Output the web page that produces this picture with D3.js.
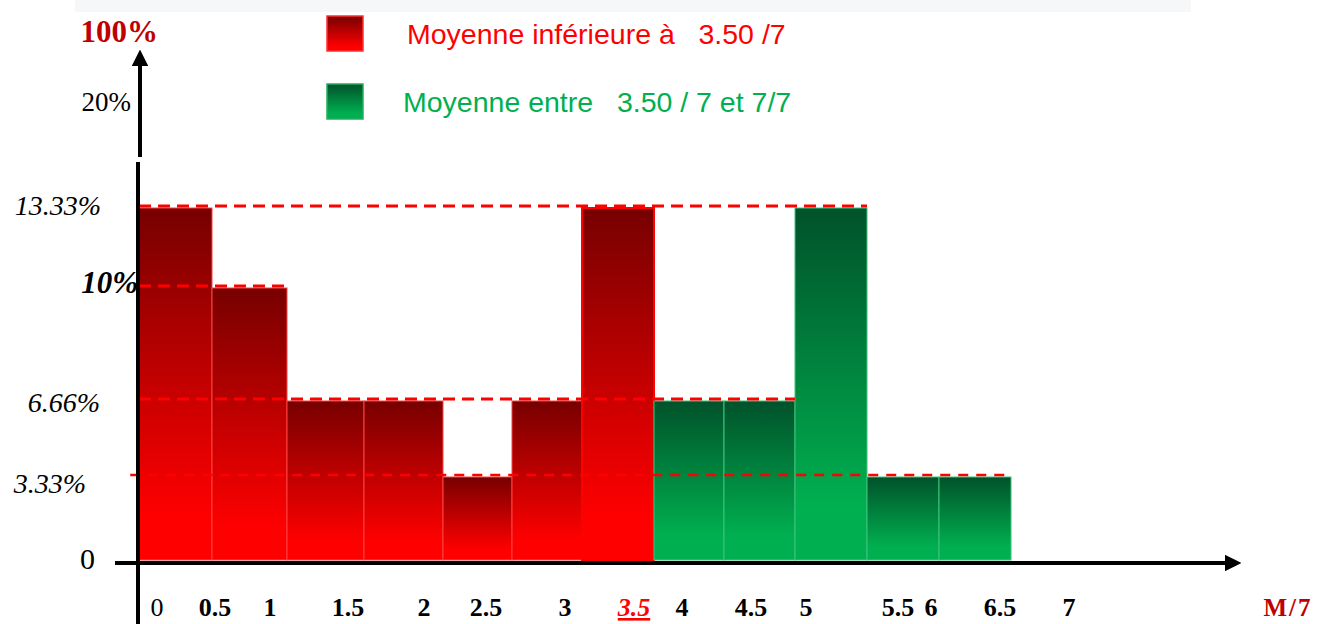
<!DOCTYPE html>
<html>
<head>
<meta charset="utf-8">
<script src="https://cdn.jsdelivr.net/npm/d3@7"></script>
<style>
  html, body { margin: 0; padding: 0; background: #ffffff; }
  svg { display: block; }
  text { white-space: pre; }
</style>
</head>
<body>
<div id="chart"></div>
<script>
// ---- data ----
var classes = [0, 0.5, 1, 1.5, 2, 2.5, 3, 3.5, 4, 4.5, 5, 5.5];            // start of each class (M/7)
var percents = [13.33, 10, 6.66, 6.66, 3.33, 6.66, 13.33, 6.66, 6.66, 13.33, 3.33, 3.33];
var groups = ["inf", "inf", "inf", "inf", "inf", "inf", "inf", "sup", "sup", "sup", "sup", "sup"];

var refValues = [13.33, 10, 6.66, 3.33];   // dashed reference levels
var refEnds = [5, 1, 4.5, 6];              // class edge where each dashed line stops

var yTickValues = [0, 3.33, 6.66, 10, 13.33, 20, 100];
var yTickLabels = ["0", "3.33%", "6.66%", "10%", "13.33%", "20%", "100%"];

var xTickValues = [0, 0.5, 1, 1.5, 2, 2.5, 3, 3.5, 4, 4.5, 5, 5.5, 6, 6.5, 7];
var xTickLabels = ["0", "0.5", "1", "1.5", "2", "2.5", "3", "3.5", "4", "4.5", "5", "5.5", "6", "6.5", "7"];

var legendLabels = ["Moyenne inférieure à   3.50 /7", "Moyenne entre   3.50 / 7 et 7/7"];

// ---- layout (hand drawn axis, so piecewise scales) ----
var W = 1317, H = 624;
var svg = d3.select("#chart").append("svg").attr("width", W).attr("height", H);

var y = d3.scaleLinear()
    .domain(yTickValues)
    .range([560, 477, 401, 288, 208, 103, 32]);

var x = d3.scaleLinear()
    .domain([0, 0.5, 1, 1.5, 2, 2.5, 3, 3.5, 4, 4.5, 5, 5.5, 6])
    .range([139, 212, 287, 364, 443, 512, 582, 654, 724, 795, 867, 939, 1011]);

// positions of the labels under the x axis (they do not sit on the bar edges)
var xLabel = d3.scaleLinear()
    .domain(xTickValues)
    .range([157, 215, 270, 348, 424, 486, 565, 634, 682, 751, 806, 898, 931, 1000, 1069]);

var serif = "'Liberation Serif', 'Times New Roman', serif";
var sans = "'Liberation Sans', Arial, sans-serif";

// gradients
var defs = svg.append("defs");
function grad(id, top, bottom, stopAt) {
    var g = defs.append("linearGradient").attr("id", id)
        .attr("x1", 0).attr("y1", 0).attr("x2", 0).attr("y2", 1);
    g.append("stop").attr("offset", "0%").attr("stop-color", top);
    g.append("stop").attr("offset", stopAt).attr("stop-color", bottom);
    g.append("stop").attr("offset", "100%").attr("stop-color", bottom);
}
grad("g-inf", "#770000", "#ff0000", "88%");
grad("g-sup", "#00522a", "#00b050", "85%");

var color = d3.scaleOrdinal().domain(["inf", "sup"]).range(["url(#g-inf)", "url(#g-sup)"]);
var stroke = d3.scaleOrdinal().domain(["inf", "sup"]).range(["#ff4040", "#3cc47a"]);

// light band at the very top
svg.append("rect").attr("x", 75).attr("y", 0).attr("width", 1116).attr("height", 12).attr("fill", "#f6f7f9");

// bars
var bars = classes.map(function (c, i) { return { start: c, end: c + 0.5, value: percents[i], group: groups[i] }; });
svg.append("g").selectAll("rect").data(bars).enter().append("rect")
    .attr("x", function (d) { return x(d.start); })
    .attr("y", function (d) { return y(d.value); })
    .attr("width", function (d) { return x(d.end) - x(d.start); })
    .attr("height", function (d) { return y(0) - y(d.value); })
    .attr("fill", function (d) { return color(d.group); })
    .attr("stroke", function (d, i) { return i == 6 ? "#ff0000" : stroke(d.group); })
    .attr("stroke-width", function (d, i) { return i == 6 ? 2 : 1; });

// dashed reference lines
svg.append("g").selectAll("line").data(refValues).enter().append("line")
    .attr("x1", function (d, i) { return i == 3 ? x(-0.06) : x(0); })
    .attr("x2", function (d, i) { return x(refEnds[i]); })
    .attr("y1", function (d) { return y(d) - 2; })
    .attr("y2", function (d) { return y(d) - 2; })
    .attr("stroke", "#ff0000")
    .attr("stroke-width", function (d, i) { return i == 3 ? 2.5 : 3; })
    .attr("stroke-dasharray", function (d, i) { return i == 3 ? "10,8" : "12,7"; });

// axes (drawn by hand like the original: arrows, broken y axis)
svg.append("defs").append("marker").attr("id", "arrow")
    .attr("viewBox", "0 0 10 10").attr("refX", 2).attr("refY", 5)
    .attr("markerWidth", 4.2).attr("markerHeight", 4.2).attr("orient", "auto")
    .append("path").attr("d", "M0,0 L10,5 L0,10 z").attr("fill", "#000");

svg.append("line").attr("x1", 115).attr("x2", 1228).attr("y1", 563).attr("y2", 563)
    .attr("stroke", "#000").attr("stroke-width", 4).attr("marker-end", "url(#arrow)");
svg.append("line").attr("x1", 140).attr("x2", 140).attr("y1", 157).attr("y2", 63)
    .attr("stroke", "#000").attr("stroke-width", 4).attr("marker-end", "url(#arrow)");
svg.append("line").attr("x1", 138).attr("x2", 138).attr("y1", 162).attr("y2", 624)
    .attr("stroke", "#000").attr("stroke-width", 4);

// y labels
var yStyle = [
    { dx: 95, dy: 9, size: 30, weight: "normal", italic: false, fill: "#000" },
    { dx: 86, dy: 16, size: 28, weight: "normal", italic: true, fill: "#000" },
    { dx: 100, dy: 11, size: 28, weight: "normal", italic: true, fill: "#000" },
    { dx: 138, dy: 5, size: 31, weight: "bold", italic: true, fill: "#000" },
    { dx: 101, dy: 7, size: 28, weight: "normal", italic: true, fill: "#000" },
    { dx: 131, dy: 8, size: 27, weight: "normal", italic: false, fill: "#000" },
    { dx: 158, dy: 10, size: 31, weight: "bold", italic: false, fill: "#c00000" }
];
svg.append("g").selectAll("text").data(yTickValues).enter().append("text")
    .attr("x", function (d, i) { return yStyle[i].dx; })
    .attr("y", function (d, i) { return y(d) + yStyle[i].dy; })
    .attr("text-anchor", "end")
    .attr("font-family", serif)
    .attr("font-size", function (d, i) { return yStyle[i].size; })
    .attr("font-weight", function (d, i) { return yStyle[i].weight; })
    .attr("font-style", function (d, i) { return yStyle[i].italic ? "italic" : "normal"; })
    .attr("fill", function (d, i) { return yStyle[i].fill; })
    .text(function (d, i) { return yTickLabels[i]; });

// x labels
svg.append("g").selectAll("text").data(xTickValues).enter().append("text")
    .attr("x", function (d) { return xLabel(d); })
    .attr("y", 616)
    .attr("text-anchor", "middle")
    .attr("font-family", serif)
    .attr("font-size", 26)
    .attr("font-weight", function (d) { return d == 0 ? "normal" : "bold"; })
    .attr("font-style", function (d) { return d == 3.5 ? "italic" : "normal"; })
    .attr("text-decoration", function (d) { return d == 3.5 ? "underline" : "none"; })
    .attr("fill", function (d) { return d == 3.5 ? "#ff0000" : "#000"; })
    .text(function (d, i) { return xTickLabels[i]; });

svg.append("text").attr("x", 1288).attr("y", 616).attr("text-anchor", "middle")
    .attr("font-family", serif).attr("font-size", 25).attr("font-weight", "bold")
    .attr("letter-spacing", 2)
    .attr("fill", "#c00000").text("M/7");

// legend
var legend = svg.append("g").selectAll("g").data(legendLabels).enter().append("g")
    .attr("transform", function (d, i) { return "translate(327," + (16 + i * 68) + ")"; });
legend.append("rect").attr("width", 36).attr("height", 35)
    .attr("fill", function (d, i) { return color(i == 0 ? "inf" : "sup"); })
    .attr("stroke", function (d, i) { return i == 0 ? "#ff3030" : "#20b060"; })
    .attr("stroke-width", 1.5);
legend.append("text")
    .attr("x", function (d, i) { return i == 0 ? 80 : 76; })
    .attr("y", 28)
    .attr("font-family", sans)
    .attr("font-size", 28.5)
    .attr("fill", function (d, i) { return i == 0 ? "#ff0000" : "#00b050"; })
    .text(function (d) { return d; });
</script>
</body>
</html>
